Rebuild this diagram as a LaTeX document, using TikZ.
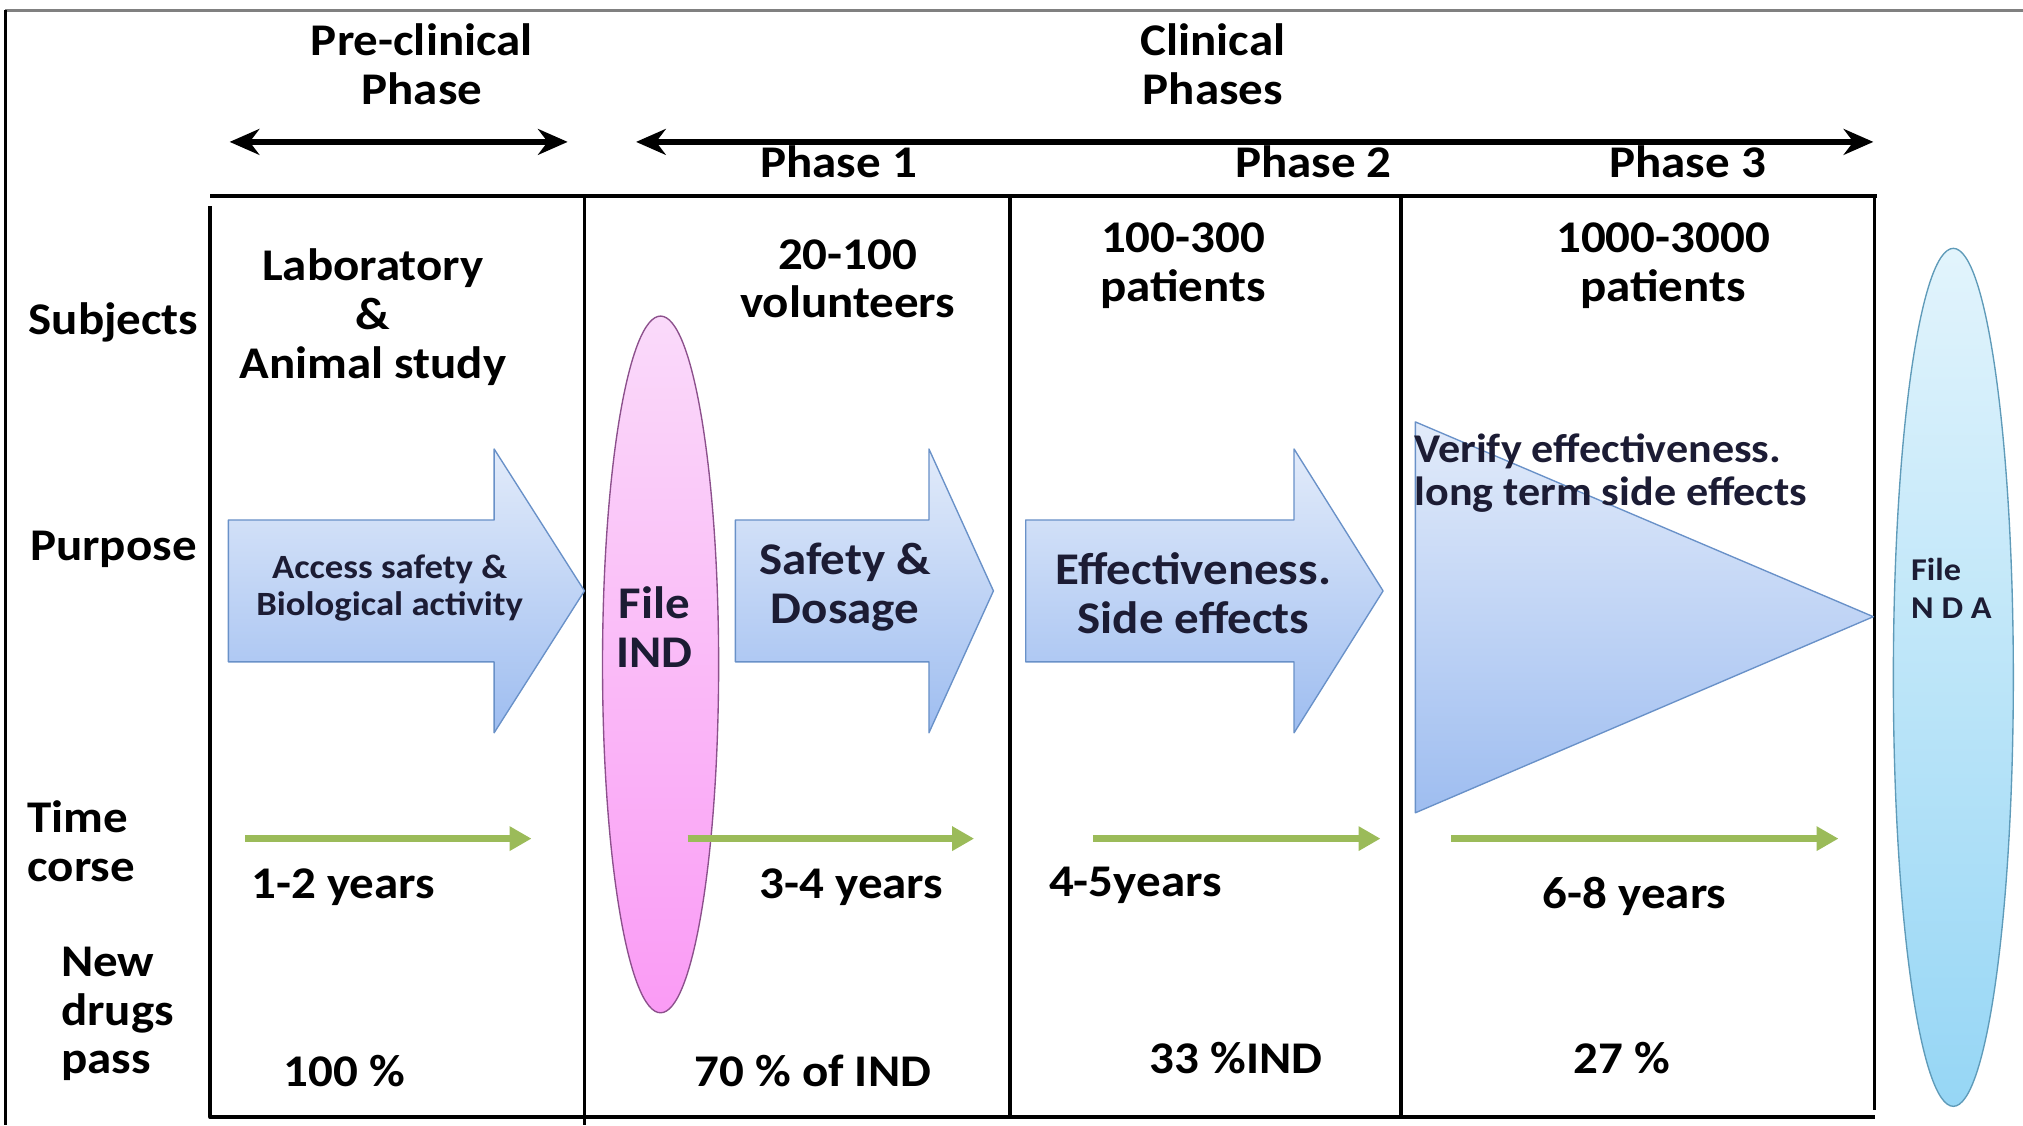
\documentclass[tikz,border=0pt]{standalone}
\usepackage{fontspec}
\setmainfont{Carlito}[FakeStretch=1.08]
\usetikzlibrary{arrows.meta,shapes.geometric}
\definecolor{arrowtop}{RGB}{226,235,250}
\definecolor{arrowbot}{RGB}{158,189,240}
\definecolor{arrowline}{RGB}{105,145,200}
\definecolor{indtop}{RGB}{250,218,250}
\definecolor{indbot}{RGB}{250,155,245}
\definecolor{indline}{RGB}{140,80,140}
\definecolor{ndatop}{RGB}{226,244,252}
\definecolor{ndabot}{RGB}{150,214,245}
\definecolor{ndaline}{RGB}{95,155,185}
\definecolor{timegreen}{RGB}{155,187,89}
\definecolor{navytext}{RGB}{28,28,52}
\tikzset{
  lbl/.style={font=\bfseries\fontsize{20}{21.5}\selectfont, align=center, inner sep=0pt},
  smalllbl/.style={font=\bfseries\fontsize{15}{16.5}\selectfont, align=center, inner sep=0pt, text=navytext},
  purpose/.style={top color=arrowtop, bottom color=arrowbot, draw=arrowline, line width=0.6pt},
  span/.style={line width=2.6pt, {Stealth[length=4.6mm,width=4mm]}-{Stealth[length=4.6mm,width=4mm]}},
  timearrow/.style={timegreen, line width=3pt, -{Triangle[length=3.4mm,width=3.6mm]}},
  grid/.style={line width=1.6pt},
}
% block arrow of the purpose row: tail x, head x, tip x
\newcommand{\purposearrow}[3]{%
  \path[purpose] (#1,403) -- (#2,403) -- (#2,348) -- (#3,458) -- (#2,568) -- (#2,513) -- (#1,513) -- cycle;}
\begin{document}
\begin{tikzpicture}[x=0.2mm, y=-0.2mm, line join=round]
\useasboundingbox (0,0) rectangle (1568,872);
% frame
\draw[gray, line width=1.2pt] (4,8) -- (1568,8);
\draw[line width=1.2pt] (4,8) -- (4,872);

% phase headings
\node[lbl] (pre) at (327,50) {Pre-clinical\\Phase};
\node[lbl] (clin) at (940,50) {Clinical\\Phases};
\coordinate (preL) at (178,110); \coordinate (preR) at (440,110);
\coordinate (clinL) at (493,110); \coordinate (clinR) at (1452,110);
\draw[span] (preL) -- (preR);
\draw[span] (clinL) -- (clinR);
\node[lbl] (ph1) at (650,125) {Phase 1};
\node[lbl] (ph2) at (1018,125) {Phase 2};
\node[lbl] (ph3) at (1308,125) {Phase 3};

% table
\draw[grid] (163,152) -- (1455,152);
\draw[grid] (163,160) -- (163,866) -- (1453,866);
\draw[grid] (453,152) -- (453,872);
\foreach \x in {783,1086} \draw[grid] (\x,152) -- (\x,864);
\draw[grid] (1453,152) -- (1453,860);

% row labels
\node[lbl] (subj) at (88,250) {Subjects};
\node[lbl] (purp) at (88,426) {Purpose};
\node[lbl, anchor=west, align=left] (time) at (21,652) {Time\\corse};
\node[lbl, anchor=west, align=left] (pass) at (47,786) {New\\drugs\\pass};

% subjects
\node[lbl] (sub0) at (289,246) {Laboratory\\\&\\Animal study};
\node[lbl] (sub1) at (657,216) {20-100\\volunteers};
\node[lbl] (sub2) at (917,206) {100-300\\patients};
\node[lbl] (sub3) at (1289,206) {1000-3000\\patients};

% purpose
\purposearrow{177}{383}{453}
\purposearrow{570}{720}{770}
\purposearrow{795}{1003}{1072}
\path[purpose] (1097,327) -- (1452,478) -- (1097,630) -- cycle;
\node[smalllbl] (pur0) at (302,456) {Access safety \&\\Biological activity};
\node[lbl, text=navytext] (pur1) at (655,455) {Safety \&\\Dosage};
\node[lbl, text=navytext] (pur2) at (925,460) {Effectiveness.\\Side effects};
\node[smalllbl, font=\bfseries\fontsize{18}{19}\selectfont, anchor=west, align=left] (pur3) at (1096,367) {Verify effectiveness.\\long term side effects};

% filings
\node[ellipse, minimum width=18mm, minimum height=108mm, top color=indtop, bottom color=indbot, draw=indline, line width=0.6pt] (ind) at (512,515) {};
\node[lbl, text=navytext] (indtxt) at (507,486) {File\\IND};
\node[ellipse, minimum width=18.6mm, minimum height=133mm, top color=ndatop, bottom color=ndabot, draw=ndaline, line width=0.6pt] (nda) at (1514,525) {};
\node[lbl, font=\bfseries\fontsize{14}{16.4}\selectfont, anchor=west, align=left, text=navytext] (ndatxt) at (1481,456) {File\\N D A};

% time course
\foreach \a/\b [count=\i] in {190/412, 533/755, 847/1070, 1125/1425} {
  \coordinate (ts\i) at (\a,650); \coordinate (te\i) at (\b,650);
  \draw[timearrow] (ts\i) -- (te\i);
}
\node[lbl] (yr0) at (266,688) {1-2 years};
\node[lbl] (yr1) at (660,688) {3-4 years};
\node[lbl] (yr2) at (880,686) {4-5years};
\node[lbl] (yr3) at (1267,695) {6-8 years};

% new drugs pass
\node[lbl] (ps0) at (267,830) {100 \%};
\node[lbl] (ps1) at (630,830) {70 \% of IND};
\node[lbl] (ps2) at (958,820) {33 \%IND};
\node[lbl] (ps3) at (1257,820) {27 \%};
\end{tikzpicture}
\end{document}
